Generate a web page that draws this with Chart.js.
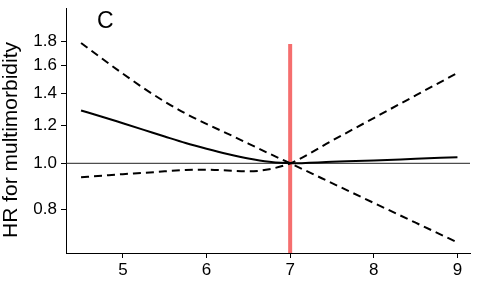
<!DOCTYPE html>
<html>
<head>
<meta charset="utf-8">
<script src="https://cdn.jsdelivr.net/npm/chart.js@4"></script>
<style>
  html, body { margin: 0; padding: 0; background: #fff; }
  #wrap { width: 484px; height: 284px; position: relative; }
</style>
</head>
<body>
<div id="wrap"><canvas id="hrChart"></canvas></div>
<script>
// exposure values along the x axis
const xValues = [4.5, 4.75, 5, 5.25, 5.5, 5.75, 6, 6.25, 6.5, 6.75, 7, 7.5, 8, 8.5, 9];
// hazard ratio (solid) and the two dashed confidence curves, which cross at the reference
const hr        = [1.29, 1.252, 1.213, 1.175, 1.138, 1.103, 1.073, 1.046, 1.023, 1.007, 1.0, 1.007, 1.014, 1.022, 1.03];
const ciFalling = [1.786, 1.657, 1.540, 1.436, 1.346, 1.271, 1.209, 1.154, 1.100, 1.048, 1.0, 0.909, 0.826, 0.751, 0.683];
const ciRising  = [0.935, 0.942, 0.949, 0.955, 0.962, 0.968, 0.970, 0.966, 0.962, 0.972, 1.0, 1.115, 1.244, 1.387, 1.546];

const xTicks = [5, 6, 7, 8, 9];
const yTicks = [0.8, 1.0, 1.2, 1.4, 1.6, 1.8];
const xRange = [4.32, 9.15];
const yRange = [0.649, 2.114];

const refHR = 1.0;        // horizontal reference line
const cutoff = 7;         // red vertical marker
const cutoffTop = 1.777;  // how high the red marker reaches

const FONT = "'Liberation Sans', Arial, Helvetica, sans-serif";

function toPoints(ys) {
  return xValues.map((x, i) => ({ x: x, y: ys[i] }));
}

// panel letter and the y axis title, placed like the R plot
const labels = {
  id: 'labels',
  afterDraw(chart) {
    const ctx = chart.ctx;
    ctx.save();
    ctx.fillStyle = '#000';
    ctx.font = '23px ' + FONT;
    ctx.textAlign = 'left';
    ctx.textBaseline = 'alphabetic';
    ctx.fillText('C', 97, 28);

    ctx.font = '21px ' + FONT;
    ctx.textAlign = 'center';
    ctx.translate(17, 140);
    ctx.rotate(-Math.PI / 2);
    ctx.fillText('HR for multimorbidity', 0, 0);
    ctx.restore();
  }
};

const curveStyle = {
  pointRadius: 0,
  borderColor: '#000',
  borderWidth: 2,
  cubicInterpolationMode: 'monotone',
  fill: false
};

new Chart(document.getElementById('hrChart').getContext('2d'), {
  type: 'line',
  data: {
    datasets: [
      Object.assign({ label: 'HR', data: toPoints(hr) }, curveStyle),
      Object.assign({ label: 'CI a', data: toPoints(ciFalling), borderDash: [8, 5] }, curveStyle),
      Object.assign({ label: 'CI b', data: toPoints(ciRising), borderDash: [8, 5] }, curveStyle),
      {
        label: 'ref',
        data: [{ x: xRange[0], y: refHR }, { x: xRange[1], y: refHR }],
        borderColor: '#222',
        borderWidth: 1,
        pointRadius: 0
      },
      {
        label: 'cutoff',
        data: [{ x: cutoff, y: yRange[0] }, { x: cutoff, y: cutoffTop }],
        borderColor: '#f56e6e',
        borderWidth: 4,
        borderCapStyle: 'butt',
        pointRadius: 0
      }
    ]
  },
  options: {
    responsive: true,
    maintainAspectRatio: false,
    animation: false,
    layout: { padding: { top: 8, right: 14, left: 0, bottom: 0 } },
    plugins: {
      legend: { display: false },
      tooltip: { enabled: false }
    },
    scales: {
      x: {
        type: 'linear',
        bounds: 'data',
        min: xRange[0],
        max: xRange[1],
        afterBuildTicks: (s) => { s.ticks = xTicks.map(v => ({ value: v })); },
        afterFit: (s) => { s.height = 31; s.paddingLeft = 0; s.paddingRight = 0; },
        ticks: {
          color: '#000',
          font: { family: FONT, size: 17 },
          padding: 2,
          maxRotation: 0
        },
        grid: { display: true, drawOnChartArea: false, drawTicks: true, tickLength: 5, tickColor: '#000' },
        border: { display: true, color: '#000', width: 1 }
      },
      y: {
        type: 'logarithmic',
        bounds: 'data',
        min: yRange[0],
        max: yRange[1],
        afterBuildTicks: (s) => { s.ticks = yTicks.map(v => ({ value: v })); },
        afterFit: (s) => { s.width = 66; s.paddingTop = 0; s.paddingBottom = 0; },
        ticks: {
          color: '#000',
          font: { family: FONT, size: 17 },
          padding: 4,
          callback: (v) => Number(v).toFixed(1)
        },
        grid: { display: true, drawOnChartArea: false, drawTicks: true, tickLength: 5, tickColor: '#000' },
        border: { display: true, color: '#000', width: 1 }
      }
    }
  },
  plugins: [labels]
});
</script>
</body>
</html>
